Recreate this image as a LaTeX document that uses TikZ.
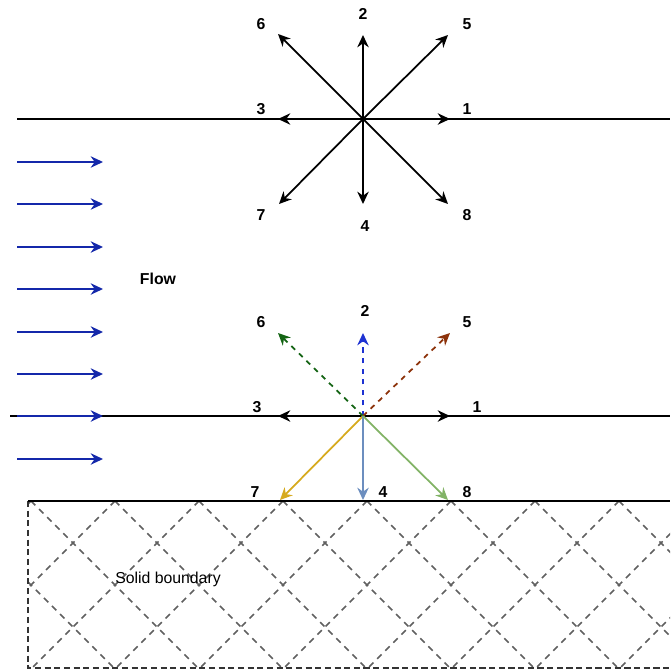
\documentclass[tikz,border=0pt]{standalone}
\usepackage{fontspec}
\setmainfont{Liberation Sans}
\usepackage{xcolor}
\usetikzlibrary{arrows.meta}

\definecolor{flowblue}{RGB}{20,40,170}
\definecolor{darkgreen}{RGB}{20,100,20}
\definecolor{dirblue}{RGB}{30,50,210}
\definecolor{rust}{RGB}{140,50,10}
\definecolor{amber}{RGB}{214,170,30}
\definecolor{steel}{RGB}{108,142,191}
\definecolor{sage}{RGB}{130,179,102}

\begin{document}
\begin{tikzpicture}[
    x=0.02cm, y=-0.02cm,
    num/.style={font=\small\bfseries, inner sep=1pt},
    vec/.style={-{Stealth[length=7pt, width=6.5pt]}, line width=1pt},
    flowarrow/.style={-{Stealth[length=7pt, width=6.5pt]}, line width=1pt, flowblue},
    wall/.style={line width=0.8pt, black},
    hatch/.style={gray!75!black, line width=0.9pt, dash pattern=on 3.5pt off 3pt},
    border/.style={black!80, line width=1pt, dash pattern=on 3.5pt off 2pt}
]
\useasboundingbox (0,0) rectangle (670,672);

% upper lattice node
\coordinate (tc) at (363,119);
\coordinate (tL) at (17,119);
\coordinate (tR) at (670,119);
\draw[wall] (tL) -- (tR);
\foreach \n/\ex/\ey/\lx/\ly in {1/450/119/467/109, 2/363/35/363/14, 3/278/119/261/109, 4/363/204/365/226,
                                5/448/35/467/24, 6/278/34/261/24, 7/279/204/261/215, 8/448/204/467/215} {
  \coordinate (t\n) at (\ex,\ey);
  \node[num] (tl\n) at (\lx,\ly) {\n};
  \draw[vec] (tc) -- (t\n);
}

% incoming flow
\foreach \i/\y in {1/162, 2/204, 3/247, 4/289, 5/332, 6/374, 7/416, 8/459} {
  \coordinate (fs\i) at (17,\y);
  \coordinate (fe\i) at (103,\y);
}
\coordinate (bL) at (10,416);
\coordinate (bR) at (670,416);
\draw[wall] (bL) -- (bR);
\foreach \i in {1,...,8} { \draw[flowarrow] (fs\i) -- (fe\i); }
\node[font=\small\bfseries] (flow) at (158,279) {Flow};

% boundary lattice node
\coordinate (bc) at (363,416);
\coordinate (b1) at (450,416);
\coordinate (b3) at (278,416);
\coordinate (b2) at (363,333);
\coordinate (b5) at (450,333);
\coordinate (b6) at (278,333);
\coordinate (b7) at (280,500);
\coordinate (b4) at (363,500);
\coordinate (b8) at (448,500);
\draw[vec] (bc) -- (b1);
\draw[vec] (bc) -- (b3);
\draw[vec, dashed, dirblue] (bc) -- (b2);
\draw[vec, dashed, rust] (bc) -- (b5);
\draw[vec, dashed, darkgreen] (bc) -- (b6);
\draw[vec, amber] (bc) -- (b7);
\draw[vec, steel] (bc) -- (b4);
\draw[vec, sage] (bc) -- (b8);
\foreach \n/\lx/\ly in {1/477/407, 2/365/311, 3/257/407, 4/383/492, 5/467/322, 6/261/322, 7/255/492, 8/467/492} {
  \node[num] (bl\n) at (\lx,\ly) {\n};
}

% solid wall
\begin{scope}
  \clip (28,501) rectangle (670,668);
  \foreach \k in {-3,...,8} {
    \pgfmathsetmacro{\xo}{115+84*\k}
    \draw[hatch] (\xo,501) -- ++(200,200);
    \draw[hatch] (\xo,501) -- ++(-200,200);
  }
\end{scope}
\coordinate (sL) at (28,501);
\coordinate (sR) at (670,501);
\coordinate (sBL) at (28,668);
\coordinate (sBR) at (672,668);
\draw[border] (sL) -- (sBL) -- (sBR);
\draw[wall] (sL) -- (sR);
\node[font=\small] (solid) at (168,579) {Solid boundary};

\end{tikzpicture}
\end{document}
